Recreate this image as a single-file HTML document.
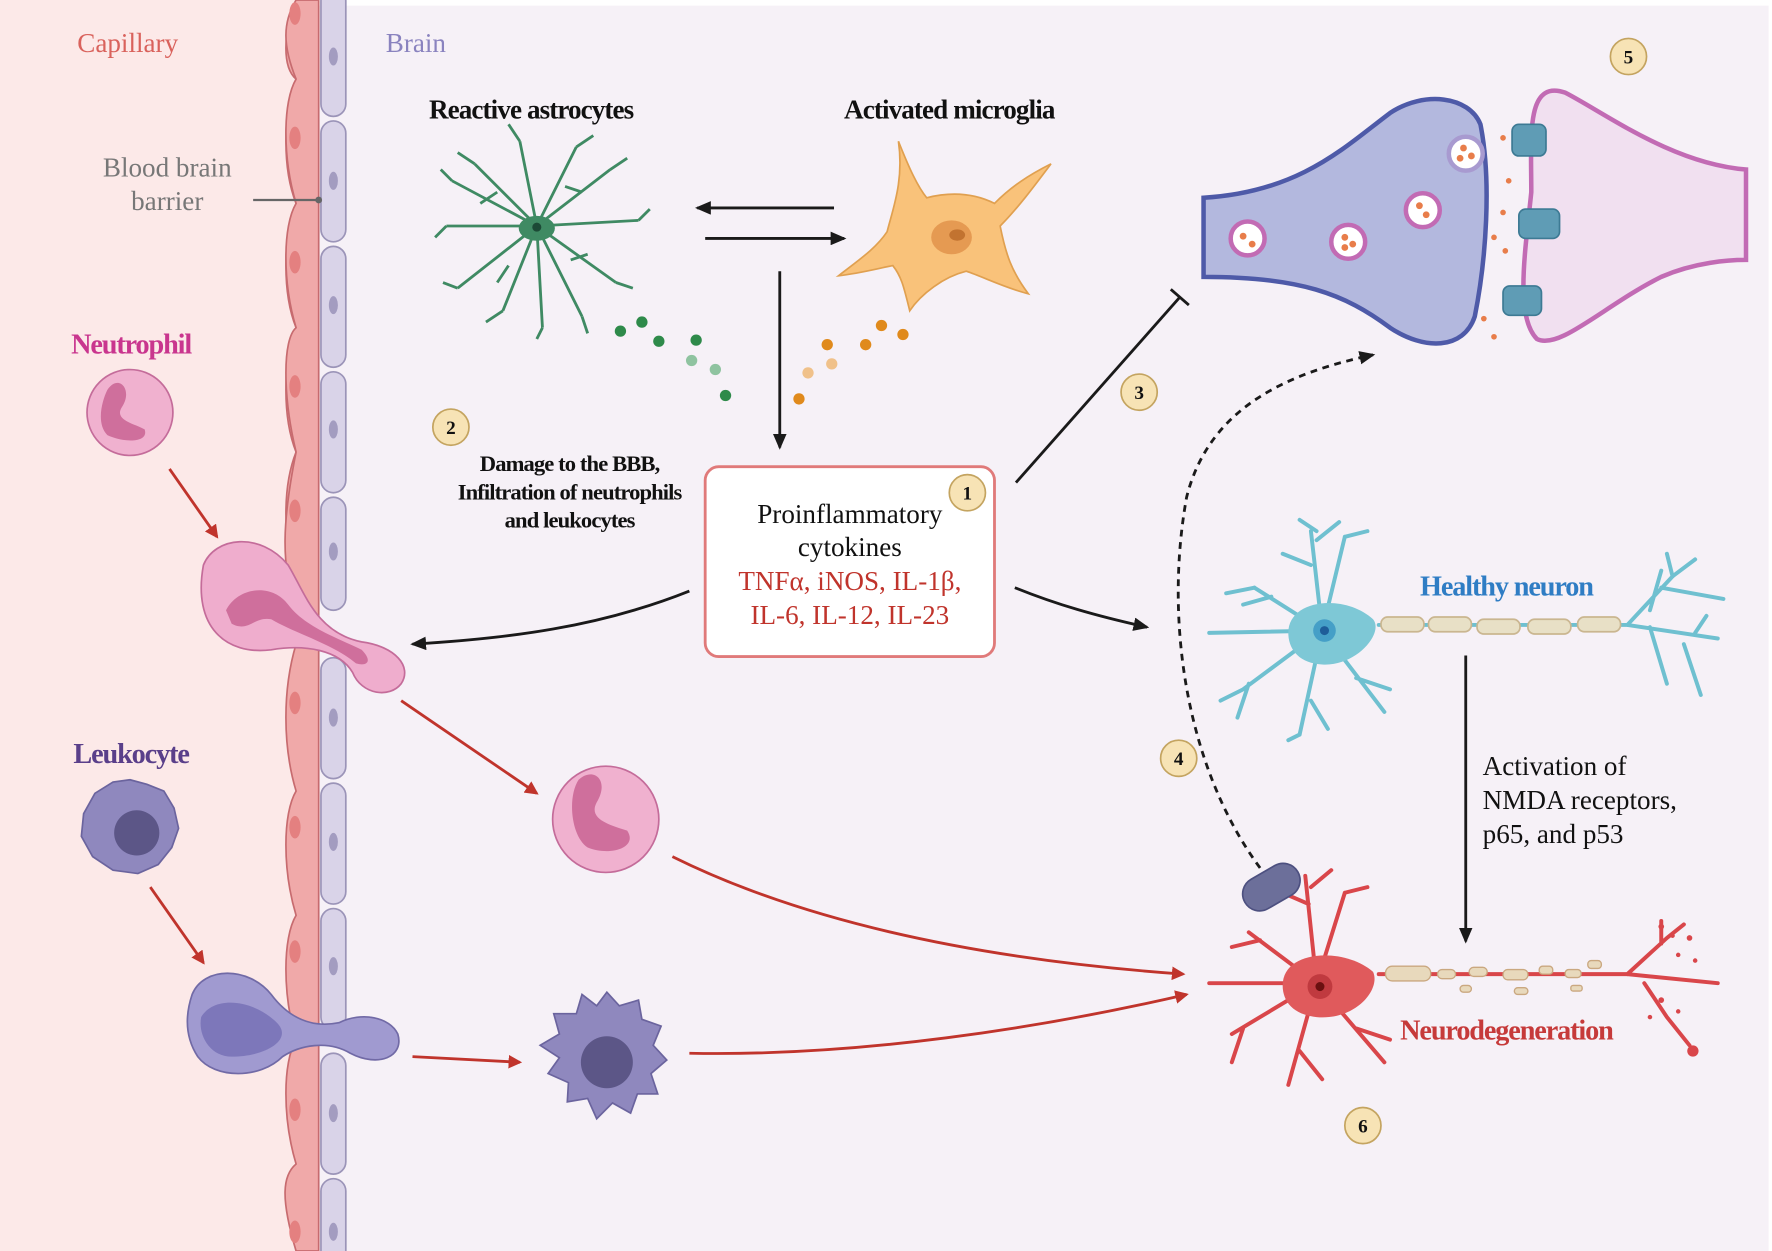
<!DOCTYPE html>
<html><head><meta charset="utf-8"><style>
html,body{margin:0;padding:0;background:#fff}
svg{display:block}
text{font-family:"Liberation Serif",serif}
</style></head><body>
<svg width="1772" height="1251" viewBox="0 0 1568 1107" preserveAspectRatio="none" xmlns="http://www.w3.org/2000/svg">
<defs>
<marker id="ak" markerWidth="10" markerHeight="10" refX="8" refY="5" orient="auto" markerUnits="userSpaceOnUse"><path d="M0,0 L10,5 L0,10 z" fill="#1a1a1a"/></marker>
<marker id="ar" markerWidth="12" markerHeight="12" refX="10" refY="6" orient="auto" markerUnits="userSpaceOnUse"><path d="M0,0 L12,6 L0,12 z" fill="#c0342c"/></marker>
<marker id="ak2" markerWidth="14" markerHeight="12" refX="12" refY="6" orient="auto" markerUnits="userSpaceOnUse"><path d="M0,0 L14,6 L0,12 z" fill="#1a1a1a"/></marker>
</defs>
<rect width="1568" height="1107" fill="#f6f1f7"/>
<rect x="0" y="0" width="1568" height="5" fill="#fff"/>
<rect x="1565" y="0" width="3" height="1107" fill="#fff"/>
<rect x="0" y="0" width="262" height="1107" fill="#fce9e8"/>
<!-- endothelium -->
<g stroke="#c76b6f" stroke-width="1.5" fill="#f0a9a9">
<path d="M262,0 C250,30 250,60 262,70 C250,100 250,150 262,180 C250,210 250,260 262,290 C250,320 250,370 262,400 C250,430 250,480 262,510 L262,0 Z"/>
<path d="M262,0 L282,0 L282,560 L262,540 C248,500 250,460 262,400 C250,350 250,300 262,290 C250,250 250,200 262,180 C250,140 250,90 262,70 C250,40 250,20 262,0Z"/>
<path d="M262,570 L282,575 L282,1107 L262,1107 C248,1060 250,1040 262,1030 C250,990 250,940 262,920 C250,880 250,830 262,810 C250,770 250,720 262,700 C250,660 250,610 262,570Z"/>
</g>
<g fill="#e48080">
<ellipse cx="261" cy="12" rx="5" ry="10"/><ellipse cx="261" cy="122" rx="5" ry="10"/><ellipse cx="261" cy="232" rx="5" ry="10"/><ellipse cx="261" cy="342" rx="5" ry="10"/><ellipse cx="261" cy="452" rx="5" ry="10"/><ellipse cx="261" cy="622" rx="5" ry="10"/><ellipse cx="261" cy="732" rx="5" ry="10"/><ellipse cx="261" cy="842" rx="5" ry="10"/><ellipse cx="261" cy="982" rx="5" ry="10"/><ellipse cx="261" cy="1090" rx="5" ry="10"/>
</g>
<g stroke="#9b94b8" stroke-width="1.5" fill="#d9d3e8">
<rect x="284" y="-10" width="22" height="113" rx="11"/><rect x="284" y="107" width="22" height="107" rx="11"/><rect x="284" y="218" width="22" height="107" rx="11"/><rect x="284" y="329" width="22" height="107" rx="11"/><rect x="284" y="440" width="22" height="100" rx="11"/>
<rect x="284" y="582" width="22" height="107" rx="11"/><rect x="284" y="693" width="22" height="107" rx="11"/><rect x="284" y="804" width="22" height="107" rx="11"/><rect x="284" y="932" width="22" height="107" rx="11"/><rect x="284" y="1043" width="22" height="80" rx="11"/>
</g>
<g fill="#a39cc0"><ellipse cx="295" cy="50" rx="4" ry="8"/><ellipse cx="295" cy="160" rx="4" ry="8"/><ellipse cx="295" cy="270" rx="4" ry="8"/><ellipse cx="295" cy="380" rx="4" ry="8"/><ellipse cx="295" cy="488" rx="4" ry="8"/><ellipse cx="295" cy="635" rx="4" ry="8"/><ellipse cx="295" cy="745" rx="4" ry="8"/><ellipse cx="295" cy="855" rx="4" ry="8"/><ellipse cx="295" cy="985" rx="4" ry="8"/><ellipse cx="295" cy="1090" rx="4" ry="8"/></g>

<text x="113" y="46" font-size="24" fill="#d9625c" text-anchor="middle">Capillary</text>
<text x="368" y="46" font-size="24" fill="#8a83bf" text-anchor="middle">Brain</text>
<text x="148" y="156" font-size="24" fill="#777" text-anchor="middle">Blood brain</text>
<text x="148" y="186" font-size="24" fill="#777" text-anchor="middle">barrier</text>
<line x1="224" y1="177" x2="282" y2="177" stroke="#666" stroke-width="2"/><circle cx="282" cy="177" r="3" fill="#666"/>
<text x="116" y="313" font-size="25" font-weight="bold" fill="#c9358e" text-anchor="middle" letter-spacing="-1">Neutrophil</text>
<text x="116" y="675" font-size="25" font-weight="bold" fill="#5a3f8a" text-anchor="middle" letter-spacing="-1">Leukocyte</text>

<!-- neutrophil -->
<circle cx="115" cy="365" r="38" fill="#f0b1cf" stroke="#c46c9a" stroke-width="1.5"/>
<path d="M95,345 C105,330 118,345 108,360 C100,372 120,375 128,380 C132,392 110,392 95,385 C85,375 90,355 95,345Z" fill="#cf6f9c"/>
<path d="M150,415 L192,475" stroke="#c0342c" stroke-width="2.5" marker-end="url(#ar)"/>
<!-- squeezing neutrophil -->
<path d="M180,500 C190,475 230,470 255,500 C270,525 280,560 320,568 C350,572 365,590 355,605 C345,618 320,615 312,595 C300,575 270,570 240,575 C200,580 170,555 180,500Z" fill="#efadcd" stroke="#c46c9a" stroke-width="1.5"/>
<path d="M200,540 C210,520 240,515 255,535 C270,555 300,565 320,575 C330,585 325,590 315,587 C295,570 260,560 240,548 C225,545 220,560 205,552Z" fill="#cf6f9c"/>
<path d="M355,620 L475,702" stroke="#c0342c" stroke-width="2.5" marker-end="url(#ar)"/>
<circle cx="536" cy="725" r="47" fill="#f0b1cf" stroke="#c46c9a" stroke-width="1.5"/>
<path d="M512,690 C525,678 540,690 528,710 C520,725 540,730 555,735 C565,750 540,758 520,750 C505,740 502,705 512,690Z" fill="#cf6f9c"/>
<!-- leukocyte -->
<path d="M115,690 L130,694 L145,700 L154,715 L158,733 L152,750 L140,765 L122,773 L100,770 L82,758 L72,740 L74,720 L84,702 L100,692Z" fill="#8f88be" stroke="#6b649e" stroke-width="1.5"/>
<circle cx="121" cy="737" r="20" fill="#5c5687"/>
<path d="M133,785 L180,852" stroke="#c0342c" stroke-width="2.5" marker-end="url(#ar)"/>
<path d="M170,880 C180,855 220,855 240,880 C255,900 275,910 300,905 C320,895 345,900 352,915 C358,935 335,945 310,932 C290,920 265,925 250,935 C230,955 190,955 175,935 C162,915 165,895 170,880Z" fill="#a09ad0" stroke="#716aa6" stroke-width="1.5"/>
<path d="M178,900 C190,880 225,885 245,905 C260,920 235,935 205,935 C185,935 175,915 178,900Z" fill="#7d77ba"/>
<path d="M365,935 L460,940" stroke="#c0342c" stroke-width="2.5" marker-end="url(#ar)"/>
<path d="M537,878 L548,890 L565,885 L568,902 L585,908 L578,925 L590,938 L576,950 L582,968 L564,968 L558,985 L542,976 L528,990 L520,972 L502,975 L503,958 L485,950 L495,936 L478,925 L495,915 L490,897 L510,897 L515,880 L528,890Z" fill="#8f88be" stroke="#6b649e" stroke-width="1.5"/>
<circle cx="537" cy="940" r="23" fill="#5c5687"/>

<!-- astrocyte -->
<g stroke="#3f8a63" stroke-width="2.5" fill="none">
<path d="M475,200 L420,145 M475,200 L460,125 M475,200 L510,130 M475,200 L540,150 M475,200 L565,195 M475,200 L545,250 M475,200 L515,280 M475,200 L480,290 M475,200 L445,275 M475,200 L405,255 M475,200 L395,200 M475,200 L400,160"/>
<path d="M420,145 L405,135 M460,125 L450,110 M510,130 L525,120 M540,150 L555,140 M565,195 L575,185 M545,250 L560,255 M515,280 L520,295 M480,290 L475,300 M445,275 L430,285 M405,255 L392,250 M395,200 L385,210 M400,160 L390,150 M440,170 L425,180 M500,165 L515,170 M505,230 L520,225 M450,235 L440,250"/>
</g>
<ellipse cx="475" cy="202" rx="16" ry="11" fill="#3f8a63"/><circle cx="475" cy="201" r="4" fill="#1c4a36"/>
<text x="470" y="105" font-size="24" font-weight="bold" fill="#111" text-anchor="middle" letter-spacing="-0.8">Reactive astrocytes</text>
<text x="840" y="105" font-size="24" font-weight="bold" fill="#111" text-anchor="middle" letter-spacing="-0.8">Activated microglia</text>
<!-- microglia -->
<path d="M795,125 C805,150 812,165 820,175 C840,170 860,170 880,180 C895,165 910,155 930,145 C915,165 900,185 885,200 C890,225 895,240 910,260 C890,255 870,245 855,240 C835,245 815,260 805,275 C800,255 798,245 790,235 C775,238 760,242 742,244 C760,230 775,220 785,205 C790,185 800,160 795,125Z" fill="#f9c27a" stroke="#e0a050" stroke-width="1.5"/>
<ellipse cx="842" cy="210" rx="18" ry="15" fill="#e59a52"/><ellipse cx="847" cy="208" rx="7" ry="5" fill="#c27330"/>
<!-- arrows between -->
<line x1="738" y1="184" x2="617" y2="184" stroke="#1a1a1a" stroke-width="2.5" marker-end="url(#ak2)"/>
<line x1="624" y1="211" x2="747" y2="211" stroke="#1a1a1a" stroke-width="2.5" marker-end="url(#ak2)"/>
<line x1="690" y1="240" x2="690" y2="396" stroke="#1a1a1a" stroke-width="2.5" marker-end="url(#ak2)"/>
<!-- dots -->
<g fill="#2e8a4a"><circle cx="549" cy="293" r="5"/><circle cx="568" cy="285" r="5"/><circle cx="583" cy="302" r="5"/><circle cx="616" cy="301" r="5"/><circle cx="642" cy="350" r="5"/></g>
<g fill="#8fc3a0"><circle cx="612" cy="319" r="5"/><circle cx="633" cy="327" r="5"/></g>
<g fill="#e08a1c"><circle cx="732" cy="305" r="5"/><circle cx="766" cy="305" r="5"/><circle cx="780" cy="288" r="5"/><circle cx="799" cy="296" r="5"/><circle cx="707" cy="353" r="5"/></g>
<g fill="#f0c18a"><circle cx="715" cy="330" r="5"/><circle cx="736" cy="322" r="5"/></g>

<!-- central box -->
<rect x="624" y="413" width="256" height="168" rx="12" fill="#fff" stroke="#e07a7a" stroke-width="2.5"/>
<text x="752" y="463" font-size="24" fill="#111" text-anchor="middle">Proinflammatory</text>
<text x="752" y="492" font-size="24" fill="#111" text-anchor="middle">cytokines</text>
<text x="752" y="522" font-size="24" fill="#c0342c" text-anchor="middle">TNFα, iNOS, IL-1β,</text>
<text x="752" y="552" font-size="24" fill="#c0342c" text-anchor="middle">IL-6, IL-12, IL-23</text>
<g font-size="17" font-weight="bold" fill="#111" text-anchor="middle" font-family="Liberation Sans">
<circle cx="856" cy="436" r="16" fill="#f7e3b5" stroke="#c4a460" stroke-width="1.5"/><text x="856" y="442">1</text>
<circle cx="399" cy="378" r="16" fill="#f7e3b5" stroke="#c4a460" stroke-width="1.5"/><text x="399" y="384">2</text>
<circle cx="1008" cy="347" r="16" fill="#f7e3b5" stroke="#c4a460" stroke-width="1.5"/><text x="1008" y="353">3</text>
<circle cx="1043" cy="671" r="16" fill="#f7e3b5" stroke="#c4a460" stroke-width="1.5"/><text x="1043" y="677">4</text>
<circle cx="1441" cy="50" r="16" fill="#f7e3b5" stroke="#c4a460" stroke-width="1.5"/><text x="1441" y="56">5</text>
<circle cx="1206" cy="996" r="16" fill="#f7e3b5" stroke="#c4a460" stroke-width="1.5"/><text x="1206" y="1002">6</text>
</g>
<g font-size="20" font-weight="bold" fill="#111" text-anchor="middle" letter-spacing="-0.8">
<text x="504" y="417">Damage to the BBB,</text>
<text x="504" y="442">Infiltration of neutrophils</text>
<text x="504" y="467">and leukocytes</text>
</g>
<path d="M610,523 C530,555 450,565 365,570" stroke="#1a1a1a" stroke-width="2.5" fill="none" marker-end="url(#ak2)"/>
<path d="M898,520 C935,535 970,545 1015,555" stroke="#1a1a1a" stroke-width="2.5" fill="none" marker-end="url(#ak2)"/>
<line x1="899" y1="427" x2="1044" y2="263" stroke="#1a1a1a" stroke-width="2.5"/>
<line x1="1036" y1="256" x2="1052" y2="270" stroke="#1a1a1a" stroke-width="2.5"/>
<path d="M1115,768 C1050,680 1030,550 1050,440 C1070,360 1140,330 1215,314" stroke="#1a1a1a" stroke-width="2.5" stroke-dasharray="6,5" fill="none" marker-end="url(#ak2)"/>

<!-- synapse -->
<path d="M1545,150 C1480,145 1420,100 1385,82 C1350,70 1355,120 1355,170 C1350,220 1340,280 1360,300 C1380,310 1420,270 1470,245 C1500,232 1530,230 1545,230Z" fill="#f1e0f0" stroke="#c26bb4" stroke-width="4"/>
<path d="M1065,175 C1150,170 1190,130 1230,100 C1260,80 1300,85 1310,110 C1320,160 1315,230 1305,280 C1295,310 1260,310 1230,290 C1190,260 1150,245 1065,245Z" fill="#b3b8de" stroke="#4e5aa8" stroke-width="4"/>
<g fill="#fff" stroke="#c26bb4" stroke-width="4"><circle cx="1104" cy="211" r="15"/><circle cx="1193" cy="214" r="15"/><circle cx="1259" cy="186" r="15"/></g>
<circle cx="1297" cy="136" r="15" fill="#fff" stroke="#a89ad0" stroke-width="4"/>
<g fill="#e87d4a"><circle cx="1100" cy="209" r="3"/><circle cx="1108" cy="216" r="3"/><circle cx="1190" cy="210" r="3"/><circle cx="1197" cy="216" r="3"/><circle cx="1190" cy="219" r="3"/><circle cx="1256" cy="182" r="3"/><circle cx="1262" cy="190" r="3"/><circle cx="1295" cy="131" r="3"/><circle cx="1302" cy="138" r="3"/><circle cx="1292" cy="140" r="3"/><circle cx="1335" cy="160" r="2.5"/><circle cx="1330" cy="188" r="2.5"/><circle cx="1322" cy="210" r="2.5"/><circle cx="1332" cy="222" r="2.5"/><circle cx="1313" cy="282" r="2.5"/><circle cx="1322" cy="298" r="2.5"/><circle cx="1330" cy="122" r="2.5"/></g>
<g fill="#5f9cb5" stroke="#3d7a94" stroke-width="1.5"><rect x="1338" y="110" width="30" height="28" rx="6"/><rect x="1344" y="185" width="36" height="26" rx="6"/><rect x="1330" y="253" width="34" height="26" rx="6"/></g>

<!-- healthy neuron -->
<g stroke="#6fc0d0" stroke-width="3.5" fill="none" stroke-linecap="round">
<path d="M1170,558 L1160,470 M1160,500 L1135,490 M1165,470 L1150,460 M1165,478 L1185,462 M1170,558 L1110,520 M1125,528 L1100,535 M1110,520 L1085,525 M1170,558 L1070,560 M1170,558 L1100,610 M1105,605 L1095,635 M1100,610 L1080,620 M1170,558 L1150,650 M1150,650 L1140,655 M1160,620 L1175,645 M1170,558 L1225,630 M1200,600 L1230,610 M1170,558 L1190,475 M1190,475 L1210,470"/>
<path d="M1220,553 L1440,553 M1440,553 L1480,510 L1500,495 M1480,510 L1475,490 M1470,520 L1525,530 M1440,553 L1520,565 M1500,560 L1510,545 M1460,555 L1475,605 M1490,570 L1505,615 M1460,540 L1470,505"/>
</g>
<path d="M1140,560 C1140,530 1190,525 1215,548 C1225,560 1200,590 1170,588 C1150,587 1140,575 1140,560Z" fill="#7ec8d6"/>
<circle cx="1172" cy="558" r="10" fill="#2d8dc0" opacity="0.7"/><circle cx="1172" cy="558" r="4" fill="#1e5d99"/>
<g fill="#e8e0c6" stroke="#cab690" stroke-width="1.5"><rect x="1222" y="546" width="38" height="13" rx="6"/><rect x="1264" y="546" width="38" height="13" rx="6"/><rect x="1307" y="548" width="38" height="13" rx="6"/><rect x="1352" y="548" width="38" height="13" rx="6"/><rect x="1396" y="546" width="38" height="13" rx="6"/></g>
<text x="1333" y="527" font-size="25" font-weight="bold" fill="#2f7dc4" text-anchor="middle" letter-spacing="-1">Healthy neuron</text>
<line x1="1297" y1="580" x2="1297" y2="833" stroke="#1a1a1a" stroke-width="2.5" marker-end="url(#ak2)"/>
<g font-size="24" fill="#111"><text x="1312" y="686">Activation of</text><text x="1312" y="716">NMDA receptors,</text><text x="1312" y="746">p65, and p53</text></g>

<!-- red neuron -->
<g stroke="#d9464a" stroke-width="3.5" fill="none" stroke-linecap="round">
<path d="M1165,870 L1155,775 M1158,800 L1135,790 M1160,785 L1178,770 M1165,870 L1105,825 M1115,832 L1090,838 M1165,870 L1070,870 M1165,870 L1090,915 M1100,910 L1090,940 M1165,870 L1140,960 M1150,930 L1170,955 M1165,870 L1225,940 M1200,910 L1230,920 M1165,870 L1190,790 M1190,790 L1210,785"/>
<path d="M1220,862 L1440,862 M1440,862 L1475,830 L1490,818 M1470,835 L1470,815 M1440,862 L1520,870 M1455,870 L1475,900 L1495,925"/>
</g>
<path d="M1135,872 C1135,840 1190,838 1215,860 C1222,875 1200,903 1165,900 C1145,898 1135,887 1135,872Z" fill="#e05a5c"/>
<circle cx="1168" cy="873" r="11" fill="#c03a3f"/><circle cx="1168" cy="873" r="4" fill="#6b1010"/>
<circle cx="1498" cy="930" r="5" fill="#d9464a"/>
<g fill="#d9464a"><circle cx="1470" cy="820" r="2.5"/><circle cx="1480" cy="828" r="2"/><circle cx="1495" cy="830" r="2.5"/><circle cx="1485" cy="845" r="2"/><circle cx="1470" cy="885" r="2.5"/><circle cx="1485" cy="895" r="2"/><circle cx="1500" cy="850" r="2"/><circle cx="1460" cy="900" r="2"/></g>
<g fill="#e8d9bc" stroke="#caa880" stroke-width="1.2"><rect x="1226" y="855" width="40" height="13" rx="6"/><rect x="1272" y="858" width="16" height="8" rx="4"/><rect x="1300" y="856" width="16" height="8" rx="4"/><rect x="1330" y="858" width="22" height="9" rx="4"/><rect x="1362" y="855" width="12" height="7" rx="3"/><rect x="1385" y="858" width="14" height="7" rx="3"/><rect x="1405" y="850" width="12" height="7" rx="3"/><rect x="1292" y="872" width="10" height="6" rx="3"/><rect x="1340" y="874" width="12" height="6" rx="3"/><rect x="1390" y="872" width="10" height="5" rx="2"/></g>
<text x="1333" y="920" font-size="25" font-weight="bold" fill="#c63a3a" text-anchor="middle" letter-spacing="-1">Neurodegeneration</text>
<rect x="1098" y="770" width="54" height="30" rx="15" transform="rotate(-30 1125 785)" fill="#6c6f9a" stroke="#4d5080" stroke-width="1.5"/>
<path d="M595,758 C720,820 880,850 1047,862" stroke="#c0342c" stroke-width="2.5" fill="none" marker-end="url(#ar)"/>
<path d="M610,932 C760,935 920,910 1050,880" stroke="#c0342c" stroke-width="2.5" fill="none" marker-end="url(#ar)"/>
</svg>
</body></html>
